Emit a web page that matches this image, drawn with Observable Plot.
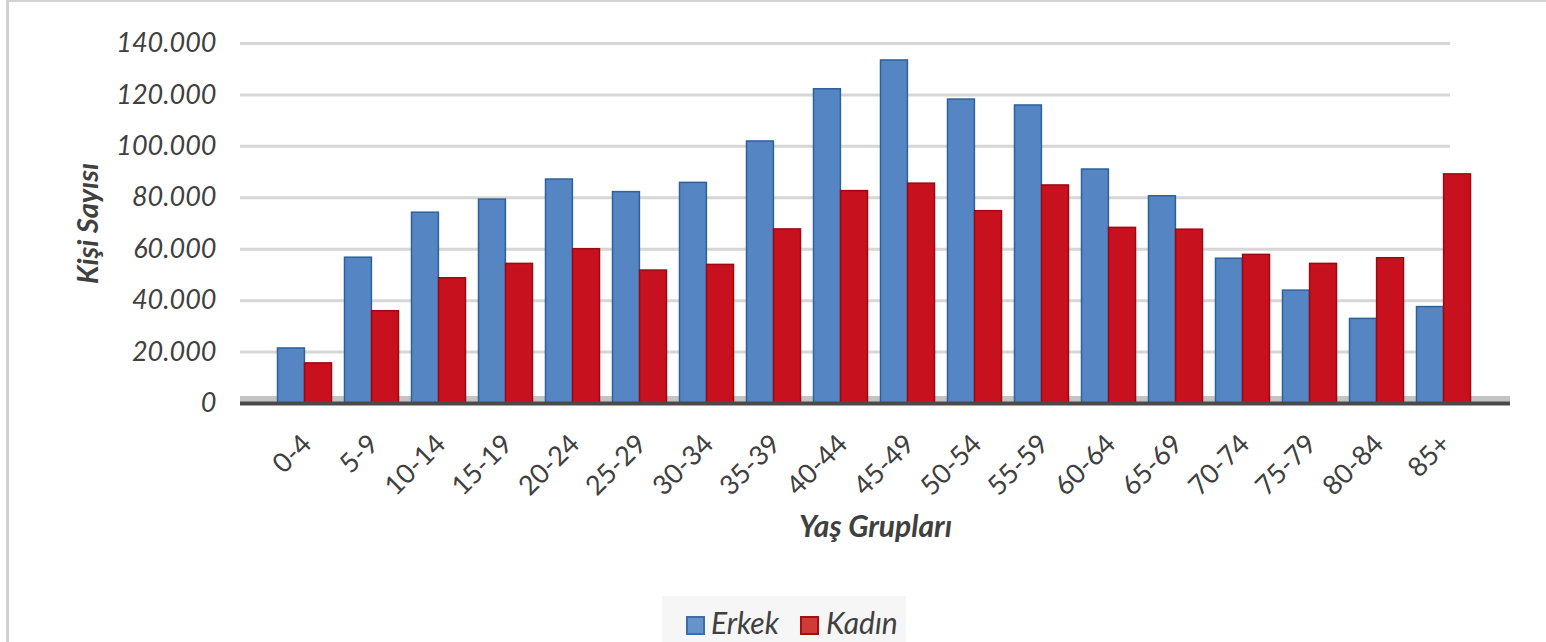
<!DOCTYPE html>
<html>
<head>
<meta charset="utf-8">
<script src="https://cdn.jsdelivr.net/npm/d3@7"></script>
<script src="https://cdn.jsdelivr.net/npm/@observablehq/plot@0.6"></script>
<style>
  html, body { margin: 0; padding: 0; background: #ffffff; }
  #wrap { position: relative; width: 1546px; height: 642px; overflow: hidden; font-family: Lato, "Open Sans", sans-serif; }
  #chart svg { display: block; }
  .bl { position: absolute; left: 6px; top: 0; width: 3px; height: 642px; background: #d2d2d2; }
  .bt { position: absolute; left: 6px; top: 0; width: 1540px; height: 2px; background: #d2d2d2; }
  .legend { position: absolute; left: 662px; top: 596px; width: 244px; height: 46px; background: #f6f6f6; }
  .sw { position: absolute; top: 20px; width: 15px; height: 15px; border: 2px solid; }
  .lt { position: absolute; top: 9px; font-size: 30px; font-style: italic; color: #404040; line-height: 34px; }
</style>
</head>
<body>
<div id="wrap">
  <div id="chart"></div>
  <div class="bl"></div>
  <div class="bt"></div>
  <div class="legend">
    <div class="sw" style="left:24px; background:#6593cb; border-color:#3e6ca3;"></div>
    <div class="lt" style="left:49px;">Erkek</div>
    <div class="sw" style="left:138px; background:#d03b38; border-color:#a3100f;"></div>
    <div class="lt" style="left:164px;">Kadın</div>
  </div>
</div>
<script>
const groups = ["0-4","5-9","10-14","15-19","20-24","25-29","30-34","35-39","40-44","45-49","50-54","55-59","60-64","65-69","70-74","75-79","80-84","85+"];
const erkek = [21400, 56700, 74200, 79300, 87100, 82200, 85800, 101900, 122200, 133400, 118200, 115900, 91000, 80600, 56300, 43900, 32900, 37500];
const kadin = [15600, 35900, 48700, 54300, 60000, 51700, 53900, 67700, 82600, 85500, 74800, 84800, 68300, 67600, 57800, 54300, 56500, 89100];
const yTicks = [0, 20000, 40000, 60000, 80000, 100000, 120000, 140000];
const xTitle = "Yaş Grupları";
const yTitle = "Kişi Sayısı";

const data = groups.map((g, i) => ({group: g, erkek: erkek[i], kadin: kadin[i]}));
const fmt = d3.formatLocale({decimal: ",", thousands: ".", grouping: [3], currency: ["", ""]}).format(",");

const chart = Plot.plot({
  width: 1546,
  height: 592,
  marginTop: 43,
  marginBottom: 189,
  marginLeft: 240,
  marginRight: 96,
  style: {fontFamily: "Lato, 'Open Sans', sans-serif", background: "transparent"},
  x: {type: "band", domain: groups, range: [269, 1479], padding: 0},
  y: {domain: [0, 140000], nice: false},
  marks: [
    Plot.ruleY(yTicks.slice(1), {stroke: "#d6d6d6", strokeWidth: 3}),
    Plot.ruleY([0], {stroke: "#c4c4c4", strokeWidth: 7, dy: -4, insetRight: -60}),
    Plot.barY(data, {x: "group", y: "erkek", fill: "#5586c3", stroke: "#2d6199", strokeWidth: 1.5, insetLeft: 6.5, insetRight: 33.6}),
    Plot.barY(data, {x: "group", y: "kadin", fill: "#c8111f", stroke: "#9c0a10", strokeWidth: 1.5, insetLeft: 33.6, insetRight: 6.5}),
    Plot.ruleY([0], {stroke: "#4a4a4a", strokeWidth: 4, insetRight: -60}),
    Plot.axisY(yTicks, {tickSize: 0, tickPadding: 24, tickFormat: fmt, fontSize: 27, fontStyle: "italic", fill: "#404040", label: null}),
    Plot.axisX({tickRotate: -45, tickSize: 0, tickPadding: 36, dx: 2, fontSize: 27, fill: "#404040", label: null}),
    Plot.text([xTitle], {text: d => d, frameAnchor: "bottom", dx: 30, dy: 133, fontSize: 30, fontWeight: "bold", fontStyle: "italic", fill: "#404040"}),
    Plot.text([yTitle], {text: d => d, frameAnchor: "left", textAnchor: "middle", dx: -152, rotate: -90, fontSize: 29, fontWeight: "bold", fontStyle: "italic", fill: "#404040"})
  ]
});
document.getElementById("chart").appendChild(chart);
</script>
</body>
</html>
